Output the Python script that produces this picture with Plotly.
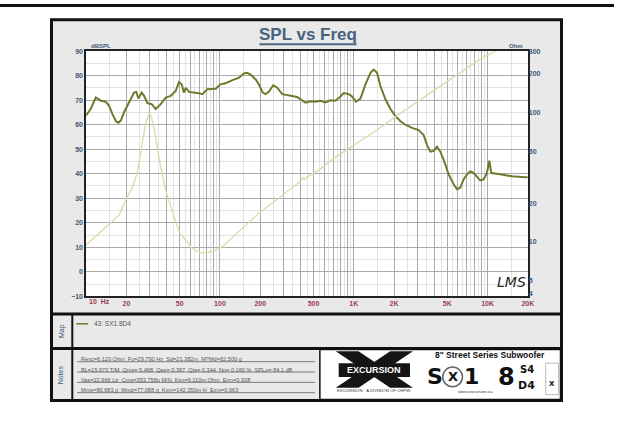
import plotly.graph_objects as go

W, H = 620, 438

# ---------------- data ----------------
spl_freq = [10, 10.2, 10.8, 11.8, 12.9, 14.0, 14.8, 15.7, 16.7, 17.4, 18.2, 19.2, 20.9, 22.8, 23.7,
            24.6, 26.0, 27.1, 28.7, 30.9, 33.1, 36.1, 39.3, 42.9, 46.7, 49.4, 51.8, 53.8, 55.5,
            58.7, 69.7, 73.8, 80.4, 92.9, 101, 110, 124, 139, 151, 160, 170, 185, 195, 209, 219,
            232, 250, 268, 292, 347, 378, 400, 436, 475, 518, 564, 614, 669, 729, 795, 841, 917,
            971, 1040, 1122, 1223, 1333, 1410, 1493, 1582, 1725, 1880, 2049, 2233, 2432, 2725,
            3055, 3328, 3525, 3735, 3954, 4188, 4437, 4699, 5120, 5577, 5906, 6255, 6625, 7017,
            7431, 7870, 8335, 8828, 9345, 9894, 10300, 10670, 12080, 15180, 19100, 20000]
spl_db = [63.8, 64.4, 66.4, 71.1, 69.8, 69.4, 67.8, 64.4, 61.4, 60.8, 61.8, 65.1, 69.1, 73.1, 73.4,
          70.7, 73.1, 71.8, 68.8, 68.4, 66.4, 68.4, 71.1, 71.8, 73.8, 77.4, 76.5, 73.1, 75.1,
          73.4, 72.9, 72.5, 74.5, 74.7, 76.5, 76.9, 78.2, 79.2, 80.9, 81.2, 80.4, 78.5, 76.5, 73.1, 72.5,
          73.4, 76.1, 75.1, 72.5, 71.8, 71.3, 70.4, 69.0, 69.6, 69.4, 69.8, 69.1, 70.0, 69.8, 71.5, 72.9, 72.5,
          71.5, 69.4, 70.7, 76.5, 81.2, 82.5, 81.2, 75.8, 70.4, 66.4, 63.5, 61.4, 60.0, 58.7,
          57.8, 55.8, 51.8, 49.0, 49.3, 51.0, 49.0, 45.7, 39.7, 35.7, 33.7, 34.3, 37.7, 39.7,
          41.0, 40.3, 39.0, 37.3, 37.7, 40.3, 45.3, 40.3, 39.9, 39.0, 38.6, 38.6]

imp_freq = [10, 13, 15, 17.6, 20.2, 22, 24, 26.3, 28, 29.5, 30.5, 32.2, 35, 39.3, 41.6, 49.4, 62,
            72, 88, 104, 150, 194, 270, 347, 380, 400, 420, 430, 445, 548, 700, 1000, 1500, 2040,
            3000, 4000, 5100, 7000, 9000, 11500, 14000]
imp_ohm = [9.5, 12.1, 14.0, 16.1, 22.1, 26, 34, 58, 85, 98, 96, 76, 45, 25, 21, 12, 8.9,
           8.2, 8.4, 9.2, 13, 16.6, 21.5, 26.4, 28.5, 29.6, 31.5, 30.4, 31.8, 36, 44, 56, 74, 93,
           122, 150, 180, 225, 265, 300, 345]

x_major = [k * 10 ** n for n in range(1, 5) for k in range(1, 10) if k * 10 ** n <= 20000]
x_labels = {20: "20", 50: "50", 100: "100", 200: "200", 500: "500",
            1000: "1K", 2000: "2K", 5000: "5K", 10000: "10K", 20000: "20K"}
x_minor = [(k + 0.5) * 10 ** n for n in range(1, 5) for k in range(1, 10) if (k + 0.5) * 10 ** n < 20000]
y_ticks = [90, 80, 70, 60, 50, 40, 30, 20, 10, 0, -10]
ohm_ticks = [300, 200, 100, 50, 20, 10, 5, 4]

notes = [
    "Revc=6.120 Ohm  Fo=29.790 Hz  Sd=21.382m  M?Md=62.500 g",
    "BL=15.673 T/M  Qms= 5.468  Qes= 0.367  Qts= 0.344  No= 0.160 %  SPLo= 84.1 dB",
    "Vas=22.966 Ltr  Cms=353.758u M/N  Kim=6.110m Ohm  Erm=0.938",
    "Mms=80.683 g  Mmd=77.088 g  Kxm=142.350m H  Exm=0.663",
]

# ---------------- helpers ----------------
def px(x):
    return x / W

def py(y):
    return 1 - y / H

SLATE = "#3b5878"
RED = "#9a3a5c"
OLIVE = "#6e7a2c"

fig = go.Figure()
fig.add_trace(go.Scatter(x=imp_freq, y=imp_ohm, yaxis="y2", mode="lines",
                         line=dict(color="#dedab0", width=1.4), name="Impedance",
                         showlegend=False, hoverinfo="skip"))
fig.add_trace(go.Scatter(x=spl_freq, y=spl_db, mode="lines",
                         line=dict(color=OLIVE, width=2), name="43: SX1 8D4",
                         showlegend=False))

shapes = []
def rect(x0, y0, x1, y1, fill, lc=None, lw=0, layer="below"):
    shapes.append(dict(type="rect", xref="paper", yref="paper", x0=px(x0), x1=px(x1),
                       y0=py(y1), y1=py(y0), fillcolor=fill, layer=layer,
                       line=dict(color=lc or fill, width=lw)))

def line(x0, y0, x1, y1, color, w, layer="below"):
    shapes.append(dict(type="line", xref="paper", yref="paper", x0=px(x0), x1=px(x1),
                       y0=py(y0), y1=py(y1), layer=layer, line=dict(color=color, width=w)))

def poly(pts, fill, layer="above"):
    path = "M " + " L ".join(f"{px(a):.5f},{py(b):.5f}" for a, b in pts) + " Z"
    shapes.append(dict(type="path", xref="paper", yref="paper", path=path,
                       fillcolor=fill, line=dict(width=0), layer=layer))

# top strip
rect(0, 0, 620, 3, "#111111")
# main frame
rect(52, 16, 567, 403, "#e9e9e9", "#111111", 3)
# plot area background
rect(87, 48, 533, 297, "#ffffff")
# separators
line(52, 315, 567, 315, "#111111", 3)
line(52, 350, 567, 350, "#111111", 3)
line(73, 315, 73, 403, "#111111", 2)
# logo area
rect(323, 351, 566, 402, "#ffffff", "#111111", 1.5)
# title underline
line(262, 41, 360, 41, "#4a6680", 2)
# legend sample
line(77, 325, 89, 325, OLIVE, 1.5)
# notes underlines
for i in range(4):
    yy = 363.5 + i * 10.5
    line(78, yy, 318, yy, "#7a7a7a", 1)

# X logo
poly([(339, 353), (362, 353), (417, 390), (394, 390)], "#151515")
poly([(394, 353), (417, 353), (362, 390), (339, 390)], "#151515")
rect(342, 365, 414, 379, "#151515", "#151515", 0, layer="above")
shapes.append(dict(type="circle", xref="paper", yref="paper", x0=px(447), x1=px(467),
                   y0=py(389), y1=py(369), line=dict(color="#666", width=1.5), layer="above"))
rect(551, 365, 564, 397, "#ffffff", "#bbbbbb", 1, layer="above")

ann = []
def text(x, y, t, size, color="#222", bold=False, xa="center", ya="middle", angle=0,
         family="Arial", style="normal"):
    ann.append(dict(x=px(x), y=py(y), xref="paper", yref="paper", text=t, showarrow=False,
                    xanchor=xa, yanchor=ya, textangle=angle,
                    font=dict(size=size, color=color, family=family,
                              weight="bold" if bold else "normal", style=style)))

text(311, 31, "SPL vs Freq", 17, "#46627c", bold=True)
text(90, 43, "dBSPL", 6, SLATE, bold=True, xa="left")
text(530, 43, "Ohm", 6, SLATE, bold=True, xa="right")
text(88, 302, "10  Hz", 7, RED, bold=True, xa="left")
text(516, 283, "LMS", 14, "#222", family="DejaVu Sans", style="italic")
text(62, 332, "Map", 7, SLATE, angle=-90)
text(62, 377, "Notes", 7, SLATE, angle=-90)
text(93, 325, "43: SX1 8D4", 6.5, "#555", xa="left")
for i, t in enumerate(notes):
    text(80, 361 + i * 10.5, t, 5.6, "#555", xa="left")

# logo text
text(378, 372, "EXCURSION", 9, "#ffffff", bold=True)
text(378, 393, "EXCURSION · A DIVISION OF CHPW", 4.3, "#333")
text(495, 357, "8\" Street Series Subwoofer", 8.5, "#111", bold=True)
text(439, 379, "S", 22, "#111", bold=True, family="DejaVu Sans")
text(457, 379, "X", 13, "#111", bold=True, family="DejaVu Sans")
text(476, 379, "1", 22, "#111", bold=True, family="DejaVu Sans")
text(511, 379, "8", 24, "#111", bold=True, family="DejaVu Sans")
text(532, 371, "S4", 10, "#111", bold=True, family="DejaVu Sans")
text(532, 388, "D4", 11, "#111", bold=True, family="DejaVu Sans")
text(557.5, 386, "X", 7, "#111", bold=True, family="DejaVu Sans")
text(480, 394, "www.excursion.ca", 4.3, "#333")

tickfont = dict(size=7, color=SLATE, family="Arial", weight="bold")
fig.update_layout(
    width=W, height=H, margin=dict(l=0, r=0, t=0, b=0),
    paper_bgcolor="#ffffff", plot_bgcolor="rgba(0,0,0,0)",
    shapes=shapes, annotations=ann, showlegend=False,
    xaxis=dict(type="log", domain=[px(87), px(533)], range=[1, 4.30103],
               tickmode="array", tickvals=x_major,
               ticktext=[x_labels.get(v, "") for v in x_major],
               tickfont=dict(size=7, color=RED, family="Arial", weight="bold"),
               showgrid=True, gridcolor="#aaaaaa", gridwidth=1,
               minor=dict(tickmode="array", tickvals=x_minor, showgrid=True,
                          gridcolor="#e2e2e2", gridwidth=1),
               showline=True, linecolor="#222", linewidth=1.5, mirror=True,
               ticks="", zeroline=False),
    yaxis=dict(domain=[py(297), py(48)], range=[-10, 90], tickmode="array",
               tickvals=y_ticks, tickfont=tickfont,
               showgrid=True, gridcolor="#aaaaaa", gridwidth=1,
               minor=dict(dtick=5, showgrid=True, gridcolor="#e2e2e2", gridwidth=1),
               showline=True, linecolor="#222", linewidth=1.5, mirror=True,
               ticks="", zeroline=False),
    yaxis2=dict(type="log", overlaying="y", side="right",
                range=[0.5798, 2.4771], tickmode="array", tickvals=ohm_ticks,
                ticktext=[str(v) for v in ohm_ticks], tickfont=tickfont,
                showgrid=False, showline=False, ticks="", zeroline=False),
)

fig.write_html("out.html", config={"displayModeBar": False},
               post_script="document.body.style.margin='0px';document.body.style.padding='0px';")
